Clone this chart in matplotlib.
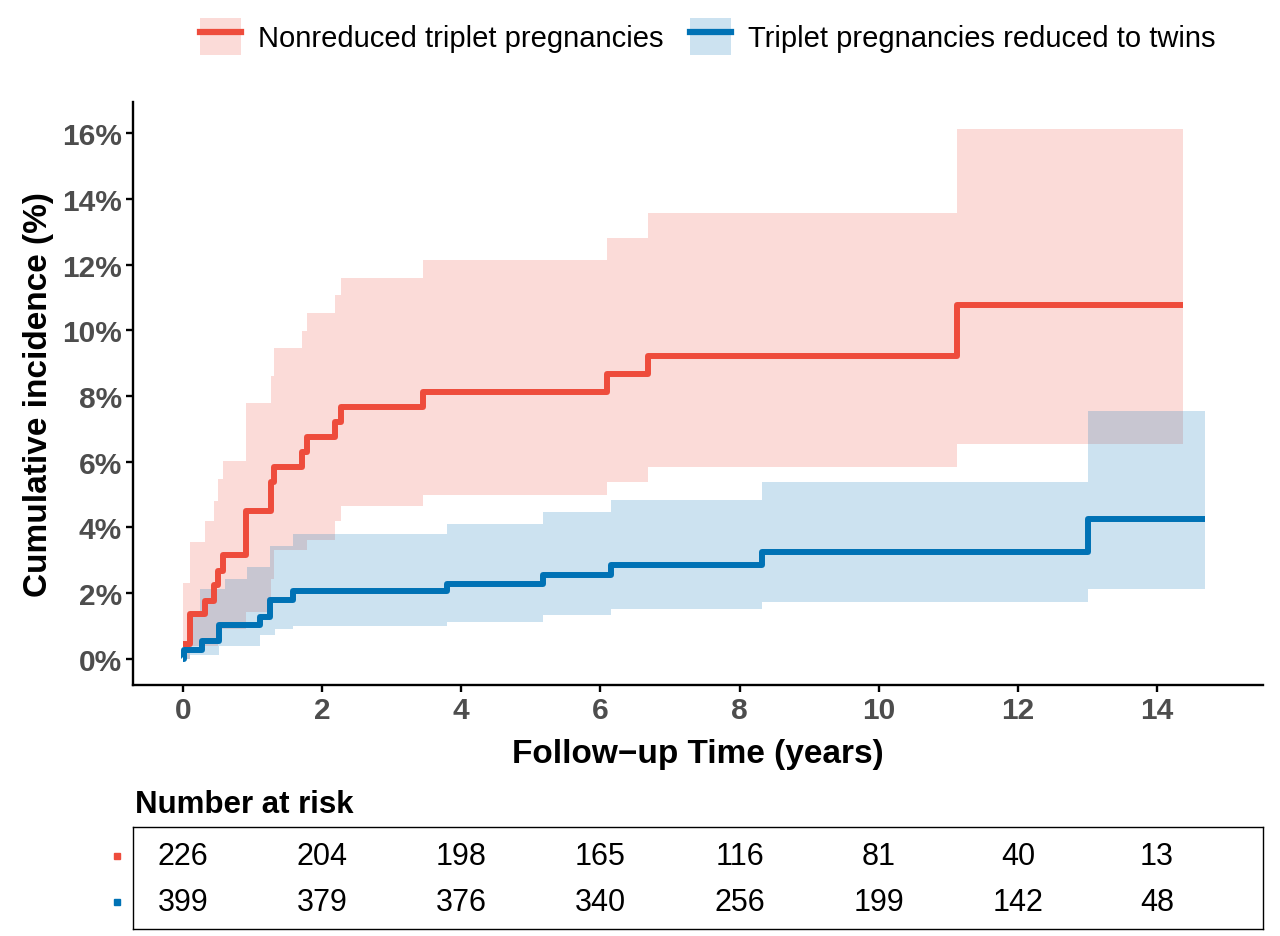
import numpy as np
import matplotlib
matplotlib.use("Agg")
import matplotlib.pyplot as plt
from matplotlib.patches import Patch
from matplotlib.lines import Line2D

plt.rcParams['font.family'] = ['Liberation Sans', 'DejaVu Sans']

# cumulative incidence (%), step functions (post)
red_time = [0, 0.1, 0.32, 0.45, 0.51, 0.58, 0.91, 1.27, 1.31, 1.71, 1.78, 2.18, 2.27, 3.45, 6.1, 6.68, 11.12, 14.37]
red_est = [0.46, 1.37, 1.77, 2.23, 2.68, 3.16, 4.51, 5.38, 5.85, 6.28, 6.74, 7.20, 7.66, 8.11, 8.66, 9.22, 10.76, 10.76]
red_upper = [2.3, 3.55, 4.2, 4.81, 5.47, 6.03, 7.78, 8.6, 9.45, 9.98, 10.54, 11.07, 11.6, 12.14, 12.8, 13.58, 16.14, 16.14]
red_lower = [0.0, 0.4, 0.4, 0.4, 0.9, 0.9, 1.42, 2.43, 3.3, 3.3, 3.6, 4.2, 4.66, 4.98, 5.37, 5.83, 6.53, 6.53]

blue_time = [0, 0.02, 0.1, 0.24, 0.28, 0.52, 0.6, 0.92, 1.11, 1.25, 1.32, 1.58, 3.79, 5.17, 6.15, 8.32, 13.01, 14.69]
blue_est = [0, 0.25, 0.25, 0.25, 0.53, 1.03, 1.03, 1.03, 1.27, 1.79, 1.79, 2.05, 2.28, 2.55, 2.84, 3.24, 4.26, 4.26]
blue_upper = [0.5, 0.5, 1.37, 2.13, 2.13, 2.13, 2.43, 2.8, 2.8, 3.44, 3.44, 3.8, 4.10, 4.46, 4.83, 5.39, 7.53, 7.53]
blue_lower = [0, 0, 0.1, 0.1, 0.1, 0.4, 0.4, 0.4, 0.71, 0.71, 0.91, 1.0, 1.13, 1.32, 1.50, 1.74, 2.11, 2.11]

risk_times = [0, 2, 4, 6, 8, 10, 12, 14]
risk_red = [226, 204, 198, 165, 116, 81, 40, 13]
risk_blue = [399, 379, 376, 340, 256, 199, 142, 48]

labels = ["Nonreduced triplet pregnancies", "Triplet pregnancies reduced to twins"]
RED = "#EE4C3C"
BLUE = "#0072B5"

fig = plt.figure(figsize=(12.8, 9.37), dpi=100)
ax = fig.add_axes([0.1039, 0.2679, 0.8828, 0.6221])

for t, est, lo, hi, col in [(red_time, red_est, red_lower, red_upper, RED),
                            (blue_time, blue_est, blue_lower, blue_upper, BLUE)]:
    ax.fill_between(t, lo, hi, step='post', color=col, alpha=0.2, linewidth=0)
    ax.plot(t, est, drawstyle='steps-post', color=col, lw=4.3,
            solid_capstyle='butt', solid_joinstyle='round')

ax.set_xlim(-0.719, 15.524)
ax.set_ylim(-0.8, 16.95)
ax.set_xticks(range(0, 15, 2))
ax.set_yticks(range(0, 17, 2))
ax.set_yticklabels([f"{v}%" for v in range(0, 17, 2)])
for s in ['top', 'right']:
    ax.spines[s].set_visible(False)
for s in ['left', 'bottom']:
    ax.spines[s].set_linewidth(1.7)
ax.tick_params(length=5, width=1.7, colors='black', labelsize=21.5, labelcolor='#4D4D4D', pad=3)
for lab in ax.get_xticklabels() + ax.get_yticklabels():
    lab.set_fontweight('bold')
ax.set_xlabel("Follow\u2212up Time (years)", fontsize=24, fontweight='bold', labelpad=10)
ax.set_ylabel("Cumulative incidence (%)", fontsize=24, fontweight='bold', labelpad=6)

# legend on top
handles = [(Patch(facecolor=RED, alpha=0.2, edgecolor='none'), Line2D([], [], color=RED, lw=4.5)),
           (Patch(facecolor=BLUE, alpha=0.2, edgecolor='none'), Line2D([], [], color=BLUE, lw=4.5))]
fig.legend(handles, labels, loc='center', bbox_to_anchor=(0.553, 0.96), ncol=2, frameon=False,
           fontsize=21, handlelength=1.4, handleheight=1.6, handletextpad=0.6, columnspacing=0.9)

# risk table
rt = fig.add_axes([0.1039, 0.0075, 0.8828, 0.1088])
rt.set_xlim(ax.get_xlim())
rt.set_ylim(0, 1)
rt.set_xticks([])
rt.set_yticks([])
for s in rt.spines.values():
    s.set_linewidth(1.0)
for x, a, b in zip(risk_times, risk_red, risk_blue):
    rt.text(x, 0.716, str(a), ha='center', va='center', fontsize=22)
    rt.text(x, 0.265, str(b), ha='center', va='center', fontsize=22)
rt.plot([-0.0142], [0.716], 's', color=RED, ms=4.5, transform=rt.transAxes, clip_on=False)
rt.plot([-0.0142], [0.265], 's', color=BLUE, ms=4.5, transform=rt.transAxes, clip_on=False)
fig.text(135 / 1280, 1 - 805 / 937, "Number at risk", fontsize=22.5, fontweight='bold', va='center', ha='left')

fig.savefig("out.png", dpi=100)
